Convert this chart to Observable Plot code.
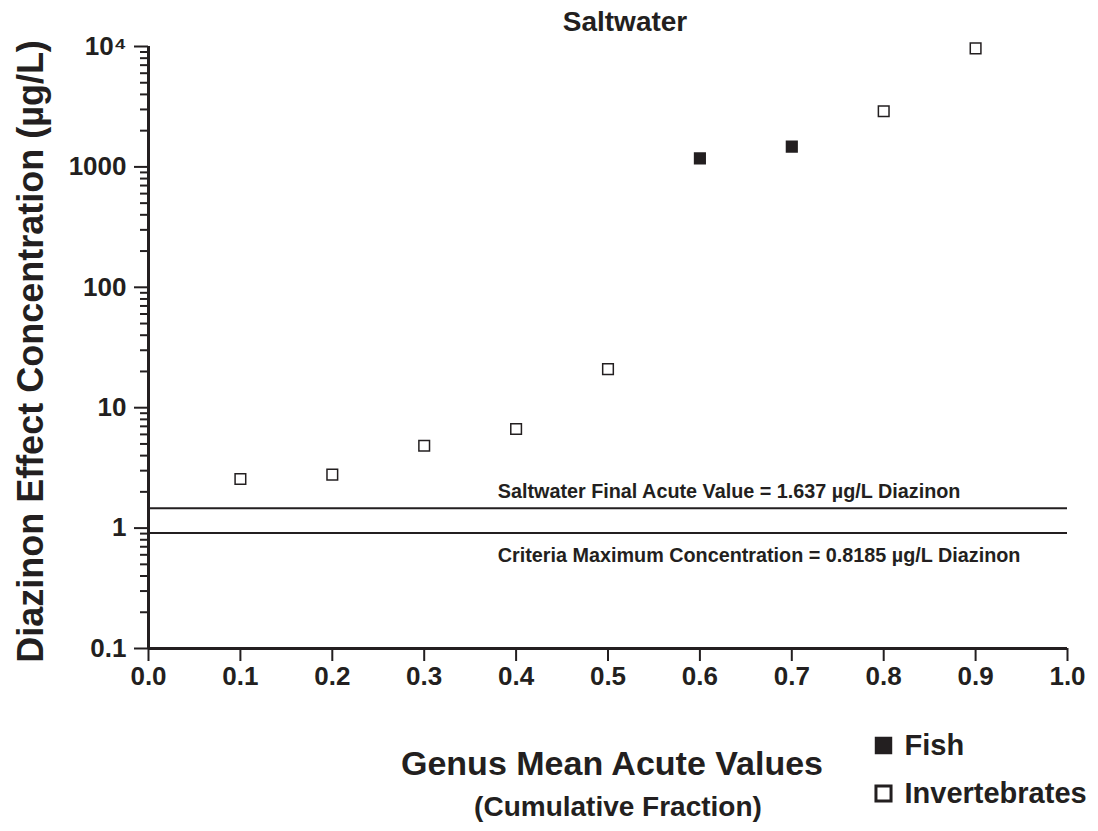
<!DOCTYPE html>
<html>
<head>
<meta charset="utf-8">
<script src="https://cdn.jsdelivr.net/npm/d3@7"></script>
<script src="https://cdn.jsdelivr.net/npm/@observablehq/plot@0.6"></script>
<style>
  html, body { margin: 0; padding: 0; background: #fff; }
  #chart svg { display: block; }
</style>
</head>
<body>
<div id="chart"></div>
<script>
// ---- data ----
const fractions = [0.1, 0.2, 0.3, 0.4, 0.5, 0.6, 0.7, 0.8, 0.9];
const concentrations = [2.56, 2.78, 4.83, 6.65, 20.9, 1178, 1472, 2897, 9660];
const groups = ["Invertebrates", "Invertebrates", "Invertebrates", "Invertebrates", "Invertebrates",
                "Fish", "Fish", "Invertebrates", "Invertebrates"];

const refValues = [1.46, 0.91];
const refLabels = ["Saltwater Final Acute Value = 1.637 \u00b5g/L Diazinon",
                   "Criteria Maximum Concentration = 0.8185 \u00b5g/L Diazinon"];
const refLabelX = [0.38, 0.38];

const xTicks = [0.0, 0.1, 0.2, 0.3, 0.4, 0.5, 0.6, 0.7, 0.8, 0.9, 1.0];
const yTicks = [0.1, 1, 10, 100, 1000, 10000];
const yTickLabels = ["0.1", "1", "10", "100", "1000", "10\u2074"];
const yMinorTicks = [0.2,0.3,0.4,0.5,0.6,0.7,0.8,0.9, 2,3,4,5,6,7,8,9, 20,30,40,50,60,70,80,90,
                     200,300,400,500,600,700,800,900, 2000,3000,4000,5000,6000,7000,8000,9000];

const legendNames = ["Fish", "Invertebrates"];

const chartTitle = "Saltwater";
const xTitle = "Genus Mean Acute Values";
const xSubtitle = "(Cumulative Fraction)";
const yTitle = "Diazinon Effect Concentration (\u00b5g/L)";

// ---- build ----
const points = fractions.map((f, i) => ({x: f, y: concentrations[i], group: groups[i]}));
const refs = refValues.map((v, i) => ({y: v, label: refLabels[i], x: refLabelX[i], above: i === 0}));
const ink = "#231f20";
const font = "'Liberation Sans', Arial, Helvetica, sans-serif";

const plot = Plot.plot({
  width: 1098,
  height: 831,
  marginLeft: 148,
  marginRight: 31,
  marginTop: 46,
  marginBottom: 183,
  style: {fontFamily: font, fontWeight: "bold", color: ink, background: "#fff"},
  x: {domain: [0, 1]},
  y: {type: "log", domain: [0.1, 10000]},
  marks: [
    // reference lines
    Plot.ruleY(refs, {y: "y", stroke: ink, strokeWidth: 2}),
    Plot.text(refs.filter(d => d.above), {x: "x", y: "y", text: "label", textAnchor: "start", dy: -17, fontSize: 19.8, fill: ink}),
    Plot.text(refs.filter(d => !d.above), {x: "x", y: "y", text: "label", textAnchor: "start", dy: 23, fontSize: 19.8, fill: ink}),
    // axes
    Plot.axisY(yMinorTicks, {tickSize: 8, tickFormat: () => "", stroke: ink, strokeWidth: 2, label: null}),
    Plot.axisY(yTicks, {tickSize: 14, tickPadding: 8, tickFormat: (d) => yTickLabels[yTicks.indexOf(d)],
      fontSize: 26, fill: ink, stroke: ink, strokeWidth: 2, label: null}),
    Plot.axisX(xTicks, {tickSize: 13, tickPadding: 5, tickFormat: d3.format(".1f"),
      fontSize: 26, fill: ink, stroke: ink, strokeWidth: 2, label: null}),
    Plot.ruleX([0], {stroke: ink, strokeWidth: 3}),
    Plot.ruleY([0.1], {stroke: ink, strokeWidth: 3}),
    // points
    Plot.dot(points, {x: "x", y: "y", symbol: "square", r: 6,
      fill: d => d.group === "Fish" ? ink : "#fff", stroke: ink, strokeWidth: 1.5}),
    // titles
    Plot.text([chartTitle], {frameAnchor: "top", lineAnchor: "middle", dx: 17, dy: -24, fontSize: 28, fill: ink}),
    Plot.text([xTitle], {frameAnchor: "bottom", lineAnchor: "middle", dx: 4, dy: 116, fontSize: 34, fill: ink}),
    Plot.text([xSubtitle], {frameAnchor: "bottom", lineAnchor: "middle", dx: 10, dy: 159, fontSize: 28, fill: ink}),
    Plot.text([yTitle], {frameAnchor: "left", textAnchor: "middle", dx: -117, dy: 4, rotate: -90, fontSize: 36, fill: ink}),
    // legend
    Plot.dot([legendNames[0]], {frameAnchor: "bottom-left", dx: 735, dy: 97, symbol: "square", r: 9, fill: ink, stroke: ink, strokeWidth: 1.5}),
    Plot.dot([legendNames[1]], {frameAnchor: "bottom-left", dx: 735, dy: 145, symbol: "square", r: 8.5, fill: "#fff", stroke: ink, strokeWidth: 3}),
    Plot.text([legendNames[0]], {frameAnchor: "bottom-left", lineAnchor: "middle", dx: 756, dy: 97, textAnchor: "start", fontSize: 29, fill: ink}),
    Plot.text([legendNames[1]], {frameAnchor: "bottom-left", lineAnchor: "middle", dx: 756, dy: 145, textAnchor: "start", fontSize: 29, fill: ink})
  ]
});
document.getElementById("chart").appendChild(plot);
</script>
</body>
</html>
